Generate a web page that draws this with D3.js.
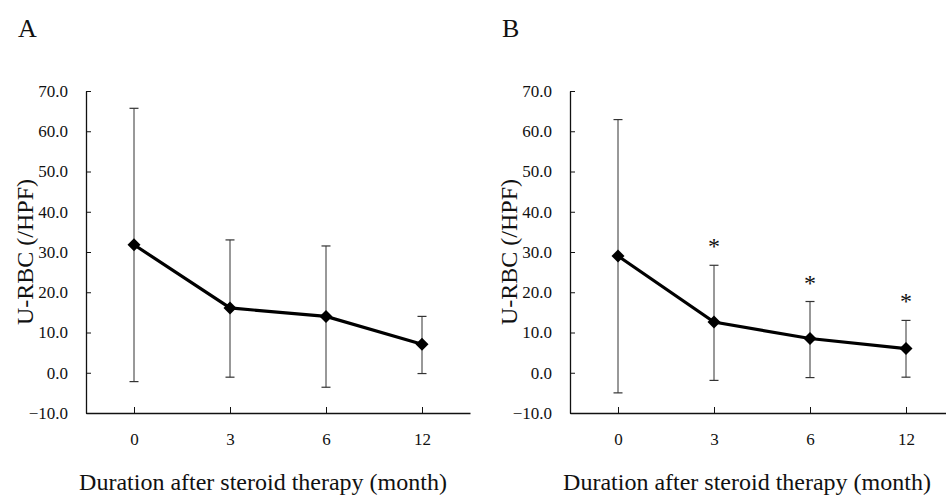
<!DOCTYPE html>
<html>
<head>
<meta charset="utf-8">
<script src="https://cdn.jsdelivr.net/npm/d3@7"></script>
<style>
  body { margin: 0; background: #fff; }
  svg { display: block; font-family: "Liberation Serif", "Times New Roman", serif; }
</style>
</head>
<body>
<div id="chart"></div>
<script>
// months after therapy (categories)
var months = ['0', '3', '6', '12'];
var yTicks = [-10, 0, 10, 20, 30, 40, 50, 60, 70];

// panel A - mean and error bar ends
var meanA = [31.8, 16.1, 14.0, 7.1];
var upperA = [65.7, 33.0, 31.5, 14.0];
var lowerA = [-2.2, -1.1, -3.6, -0.2];

// panel B
var meanB = [29.0, 12.6, 8.5, 6.0];
var upperB = [62.9, 26.7, 17.7, 13.0];
var lowerB = [-5.0, -1.9, -1.2, -1.1];
var sigB = [false, true, true, true];

var W = 946, H = 496;
var plotW = 384, plotH = 322;
var serif = '"Liberation Serif", "Times New Roman", serif';

var svg = d3.select('#chart')
  .append('svg')
  .attr('width', W)
  .attr('height', H);

var x = d3.scalePoint().domain(months).range([0, plotW]).padding(0.5);
var y = d3.scaleLinear().domain([-10, 70]).range([plotH, 0]);

function drawPanel(left, letter, mean, upper, lower, sig) {
  var g = svg.append('g').attr('transform', 'translate(' + left + ',91)');

  var rows = months.map(function(m, i) {
    return {m: m, v: mean[i], hi: upper[i], lo: lower[i], sig: sig ? sig[i] : false};
  });

  // y axis
  var ya = g.append('g')
    .call(d3.axisLeft(y).tickValues(yTicks).tickFormat(d3.format('.1f'))
      .tickSize(-5).tickSizeOuter(0).tickPadding(18))
    .attr('font-family', serif);
  ya.selectAll('text').attr('font-size', '17px').attr('fill', '#111');
  ya.select('.domain').attr('stroke', '#111').attr('stroke-width', 1.3);
  ya.selectAll('.tick line').attr('stroke', '#111');

  // x axis
  var xa = g.append('g')
    .attr('transform', 'translate(0,' + plotH + ')')
    .call(d3.axisBottom(x).tickSize(-6).tickSizeOuter(0).tickPadding(20))
    .attr('font-family', serif);
  xa.selectAll('text').attr('font-size', '17px').attr('fill', '#111');
  xa.select('.domain').attr('stroke', '#111').attr('stroke-width', 1.6);
  xa.selectAll('.tick line').attr('stroke', '#111');

  // error bars
  var eb = g.selectAll('.eb').data(rows).enter().append('g').attr('class', 'eb');
  eb.append('line')
    .attr('x1', function(d) { return x(d.m); })
    .attr('x2', function(d) { return x(d.m); })
    .attr('y1', function(d) { return y(d.hi); })
    .attr('y2', function(d) { return y(d.lo); })
    .attr('stroke', '#333').attr('stroke-width', 1);
  ['hi', 'lo'].forEach(function(k) {
    eb.append('line')
      .attr('x1', function(d) { return x(d.m) - 4.5; })
      .attr('x2', function(d) { return x(d.m) + 4.5; })
      .attr('y1', function(d) { return y(d[k]); })
      .attr('y2', function(d) { return y(d[k]); })
      .attr('stroke', '#333').attr('stroke-width', 1.2);
  });

  // mean line
  var line = d3.line()
    .x(function(d) { return x(d.m); })
    .y(function(d) { return y(d.v); });
  g.append('path')
    .datum(rows)
    .attr('d', line)
    .attr('fill', 'none')
    .attr('stroke', '#000')
    .attr('stroke-width', 3.2);

  // diamonds
  g.selectAll('.pt').data(rows).enter().append('path')
    .attr('class', 'pt')
    .attr('transform', function(d) { return 'translate(' + x(d.m) + ',' + y(d.v) + ')'; })
    .attr('d', 'M0,-6.5L6.5,0L0,6.5L-6.5,0Z')
    .attr('fill', '#000');

  // significance stars
  g.selectAll('.star').data(rows.filter(function(d) { return d.sig; })).enter()
    .append('text')
    .attr('class', 'star')
    .attr('x', function(d) { return x(d.m); })
    .attr('y', function(d) { return y(d.hi) - 11; })
    .attr('text-anchor', 'middle')
    .attr('font-size', '24px')
    .attr('fill', '#111')
    .text('*');

  // axis titles
  g.append('text')
    .attr('transform', 'translate(' + (-53) + ',' + (plotH / 2) + ') rotate(-90)')
    .attr('text-anchor', 'middle')
    .attr('font-size', '24px')
    .attr('fill', '#111')
    .text('U-RBC (/HPF)');

  g.append('text')
    .attr('x', plotW / 2 - 15)
    .attr('y', 399)
    .attr('text-anchor', 'middle')
    .attr('font-size', '24px')
    .attr('fill', '#111')
    .text('Duration after steroid therapy (month)');

  // panel letter
  svg.append('text')
    .attr('x', left - 68)
    .attr('y', 37)
    .attr('font-size', '26px')
    .attr('fill', '#111')
    .text(letter);
}

drawPanel(86, 'A', meanA, upperA, lowerA, null);
drawPanel(570, 'B', meanB, upperB, lowerB, sigB);
</script>
</body>
</html>
